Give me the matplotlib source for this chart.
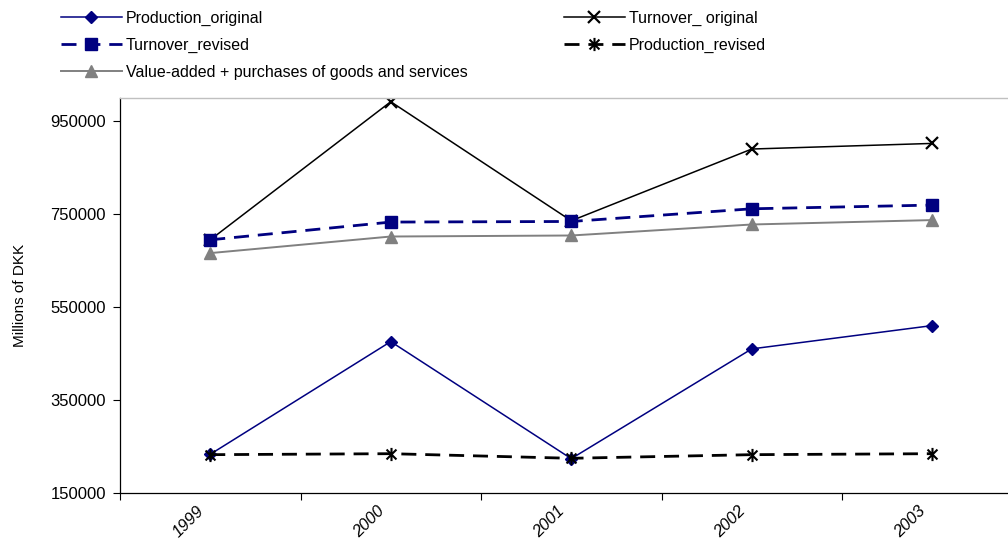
import numpy as np
import matplotlib
matplotlib.use("Agg")
import matplotlib.pyplot as plt
from matplotlib.path import Path
from matplotlib.ticker import FixedLocator, NullFormatter

plt.rcParams['font.family'] = ['Liberation Sans', 'DejaVu Sans']

years = ['1999', '2000', '2001', '2002', '2003']
production_original = [232700, 475400, 223300, 459700, 509900]
turnover_original = [694600, 992000, 735600, 890100, 902200]
turnover_revised = [694600, 732800, 734100, 761400, 769400]
production_revised = [231900, 234000, 224100, 231900, 234000]
value_added_purchases = [666000, 701700, 703900, 727600, 737100]

navy = '#000080'
grey = '#808080'

# asterisk: an x with a vertical bar through it
star = Path([(0, -1), (0, 1), (-0.75, -0.75), (0.75, 0.75),
             (-0.75, 0.75), (0.75, -0.75)],
            [Path.MOVETO, Path.LINETO] * 3)

fig = plt.figure(figsize=(10.08, 5.46), dpi=100)
ax = fig.add_axes([120 / 1008, 53.3 / 546, 902.5 / 1008, 394.7 / 546])

x = np.arange(len(years))

l_po, = ax.plot(x, production_original, color=navy, lw=1.1, marker='D',
                markersize=6.5, markerfacecolor=navy, markeredgecolor=navy)
l_to, = ax.plot(x, turnover_original, color='black', lw=1.1, marker='x',
                markersize=8, markeredgewidth=1.6)
l_tr, = ax.plot(x, turnover_revised, color=navy, lw=2.0, dashes=(5.4, 3.2),
                marker='s', markersize=8, markerfacecolor=navy,
                markeredgecolor=navy)
l_pr, = ax.plot(x, production_revised, color='black', lw=2.0, dashes=(5.4, 3.2),
                marker=star, markersize=9.5, markeredgewidth=1.5,
                markerfacecolor='none', markeredgecolor='black')
l_va, = ax.plot(x, value_added_purchases, color=grey, lw=1.4, marker='^',
                markersize=8, markerfacecolor=grey, markeredgecolor=grey)

ax.set_xlim(-0.5, len(years) - 0.5)
ax.set_ylim(150000, 1000000)
ax.set_yticks(np.arange(150000, 1000001, 200000))
ax.set_yticklabels([str(v) for v in range(150000, 1000001, 200000)], fontsize=12)

# year labels hang slightly left of each category centre;
# boundary ticks come from the minor locator
ax.set_xticks(x - 0.08)
ax.set_xticklabels(years, rotation=45, ha='right', va='top',
                   rotation_mode='anchor', fontsize=12, style='italic')
ax.xaxis.set_minor_locator(FixedLocator(np.arange(-0.5, len(years), 1.0)))
ax.xaxis.set_minor_formatter(NullFormatter())
ax.tick_params(axis='x', which='major', length=0, pad=8)
ax.tick_params(axis='x', which='minor', length=5, width=0.8, direction='out')
ax.tick_params(axis='y', length=5, width=0.8, direction='out', pad=5)

for side in ('left', 'bottom'):
    ax.spines[side].set_color('black')
    ax.spines[side].set_linewidth(0.9)
ax.spines['top'].set_color('#c0c0c0')
ax.spines['top'].set_linewidth(1.0)
ax.spines['right'].set_visible(False)

ax.set_ylabel('Millions of DKK', fontsize=11, labelpad=17)

leg_kw = dict(frameon=False, fontsize=11.5, handlelength=3.8,
              handletextpad=0.25, labelspacing=0.74, borderpad=0,
              borderaxespad=0, loc='upper left')
fig.legend([l_po, l_tr, l_va],
           ['Production_original', 'Turnover_revised',
            'Value-added + purchases of goods and services'],
           bbox_to_anchor=(61 / 1008, 1 - 11 / 546), **leg_kw)
fig.legend([l_to, l_pr],
           ['Turnover_ original', 'Production_revised'],
           bbox_to_anchor=(564 / 1008, 1 - 11 / 546), **leg_kw)

fig.savefig('out.png', dpi=100)
